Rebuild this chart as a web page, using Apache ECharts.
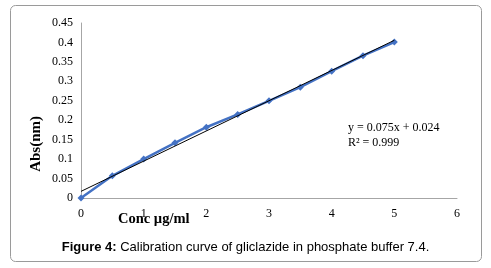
<!DOCTYPE html>
<html>
<head>
<meta charset="utf-8">
<script src="https://cdn.jsdelivr.net/npm/echarts@6/dist/echarts.min.js"></script>
<style>
  html, body { margin: 0; padding: 0; background: #fff; }
  #chart { width: 491px; height: 268px; }
</style>
</head>
<body>
<div id="chart"></div>
<script>
// concentration (µg/ml) and absorbance
const conc = [0, 0.5, 1, 1.5, 2, 2.5, 3, 3.5, 4, 4.5, 5]
const abs = [0, 0.057, 0.1, 0.142, 0.182, 0.215, 0.25, 0.285, 0.326, 0.366, 0.401]
const equationText = ['y = 0.075x + 0.024', 'R² = 0.999']

// linear trendline through the data (least squares)
const n = conc.length
const mx = conc.reduce((a, b) => a + b, 0) / n
const my = abs.reduce((a, b) => a + b, 0) / n
let sxy = 0, sxx = 0
conc.forEach((x, i) => {
  sxy += (x - mx) * (abs[i] - my)
  sxx += (x - mx) * (x - mx)
})
const slope = sxy / sxx
const intercept = my - slope * mx
const trendX = [conc[0], conc[n - 1]]

const chart = echarts.init(document.getElementById('chart'))
chart.setOption({
  animation: false,
  grid: { left: 81, right: 34, top: 23, bottom: 70 },
  xAxis: {
    type: 'value',
    min: 0,
    max: 6,
    interval: 1,
    splitLine: { show: false },
    axisTick: { show: false },
    axisLine: { lineStyle: { color: '#a6a6a6', width: 1 } },
    axisLabel: { color: '#000', fontFamily: 'Liberation Serif', fontSize: 12, margin: 10 },
  },
  yAxis: {
    type: 'value',
    min: 0,
    max: 0.45,
    interval: 0.05,
    splitLine: { show: false },
    axisTick: { show: false },
    axisLine: { show: true, lineStyle: { color: '#a6a6a6', width: 1 } },
    axisLabel: { color: '#000', fontFamily: 'Liberation Serif', fontSize: 12, margin: 8 },
  },
  graphic: [
    {
      type: 'rect',
      shape: { x: 10.5, y: 5.5, width: 471, height: 256, r: 5 },
      style: { fill: 'none', stroke: '#9a9a9a', lineWidth: 1 },
      silent: true,
    },
    {
      type: 'text',
      left: 118,
      top: 212,
      style: { text: 'Conc µg/ml', font: 'bold 14.5px "Liberation Serif"', fill: '#000' },
    },
    {
      type: 'text',
      left: 29,
      top: 116,
      rotation: Math.PI / 2,
      originX: 0,
      originY: 0,
      style: { text: 'Abs(nm)', font: 'bold 15px "Liberation Serif"', fill: '#000', align: 'center', verticalAlign: 'middle' },
    },
    {
      type: 'text',
      left: 348,
      top: 120,
      style: { text: equationText.join('\n'), font: '12px "Liberation Serif"', fill: '#000', align: 'center', lineHeight: 15 },
    },
    {
      type: 'text',
      left: 'center',
      top: 241,
      style: {
        rich: {
          b: { font: 'bold 13px "Liberation Sans"', fill: '#000' },
          t: { font: '13px "Liberation Sans"', fill: '#000' },
        },
        text: '{b|Figure 4:}{t| Calibration curve of gliclazide in phosphate buffer 7.4.}',
      },
    },
  ],
  series: [
    {
      type: 'line',
      data: conc.map((x, i) => [x, abs[i]]),
      symbol: 'diamond',
      symbolSize: 7,
      lineStyle: { color: '#4472c4', width: 2.5 },
      itemStyle: { color: '#4472c4' },
      z: 2,
    },
    {
      type: 'line',
      data: trendX.map((x) => [x, intercept + slope * x]),
      symbol: 'none',
      lineStyle: { color: '#000', width: 1 },
      z: 3,
    },
  ],
})
</script>
</body>
</html>
